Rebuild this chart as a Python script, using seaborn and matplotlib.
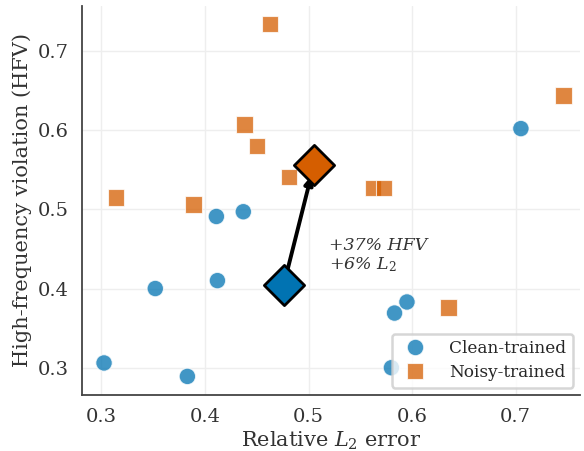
import matplotlib
matplotlib.use("Agg")
import matplotlib.pyplot as plt
import numpy as np
import pandas as pd
import seaborn as sns

clean_l2 = [0.3025, 0.383, 0.352, 0.412, 0.411, 0.437, 0.583, 0.595, 0.580, 0.705]
clean_hfv = [0.306, 0.289, 0.400, 0.410, 0.491, 0.497, 0.369, 0.383, 0.300, 0.602]
noisy_l2 = [0.463, 0.314, 0.389, 0.438, 0.450, 0.481, 0.562, 0.573, 0.746, 0.635]
noisy_hfv = [0.734, 0.515, 0.506, 0.607, 0.580, 0.541, 0.527, 0.527, 0.644, 0.376]

groups = ["Clean-trained", "Noisy-trained"]
colors = {"Clean-trained": "#0173b2", "Noisy-trained": "#d55e00"}

df = pd.DataFrame({
    "l2": clean_l2 + noisy_l2,
    "hfv": clean_hfv + noisy_hfv,
    "group": [groups[0]] * len(clean_l2) + [groups[1]] * len(noisy_l2),
})
means = df.groupby("group")[["l2", "hfv"]].mean()

sns.set_theme(style="whitegrid", font="DejaVu Serif")
plt.rcParams["mathtext.fontset"] = "dejavuserif"

fig, ax = plt.subplots(figsize=(5.84, 4.51), dpi=100)
sns.scatterplot(
    data=df, x="l2", y="hfv", hue="group", style="group",
    markers={groups[0]: "o", groups[1]: "s"}, palette=colors,
    s=140, alpha=0.75, edgecolor="white", linewidth=0.8, ax=ax,
)

for g in groups:
    ax.scatter(means.loc[g, "l2"], means.loc[g, "hfv"], marker="D", s=420,
               color=colors[g], edgecolor="black", linewidth=2, zorder=5)

c, n = means.loc[groups[0]], means.loc[groups[1]]
ax.annotate("", xy=(n["l2"], n["hfv"]), xytext=(c["l2"], c["hfv"]),
            arrowprops=dict(arrowstyle="-|>", color="black", lw=2.8,
                            shrinkA=8, shrinkB=8, mutation_scale=12), zorder=4)
hfv_pct = (n["hfv"] / c["hfv"] - 1) * 100
l2_pct = (n["l2"] / c["l2"] - 1) * 100
ax.text(0.52, 0.465, f"+{hfv_pct:.0f}% HFV\n+{l2_pct:.0f}% $L_2$",
        fontsize=12.5, style="italic", color="#333333", va="top", ha="left",
        linespacing=1.1)

ax.set_xlim(0.281, 0.762)
ax.set_ylim(0.266, 0.757)
ax.set_xticks([0.3, 0.4, 0.5, 0.6, 0.7])
ax.set_yticks([0.3, 0.4, 0.5, 0.6, 0.7])
ax.set_xlabel("Relative $L_2$ error", fontsize=15, color="#333333", labelpad=3)
ax.set_ylabel("High-frequency violation (HFV)", fontsize=15, color="#333333")
ax.tick_params(labelsize=14, colors="#333333")
ax.grid(color="#eeeeee", linewidth=1)
sns.despine(ax=ax)
for sp in ["left", "bottom"]:
    ax.spines[sp].set_color("#444444")
    ax.spines[sp].set_linewidth(1.3)

leg = ax.legend(loc="lower right", fontsize=12.2, frameon=True, markerscale=1.0,
                borderaxespad=0.4, handletextpad=1.0, borderpad=0.4,
                labelspacing=0.4)
leg.get_frame().set_edgecolor("#cccccc")
leg.get_frame().set_linewidth(1.8)

fig.subplots_adjust(left=0.14, right=0.993, top=0.987, bottom=0.125)
fig.savefig("out.png", dpi=100)
